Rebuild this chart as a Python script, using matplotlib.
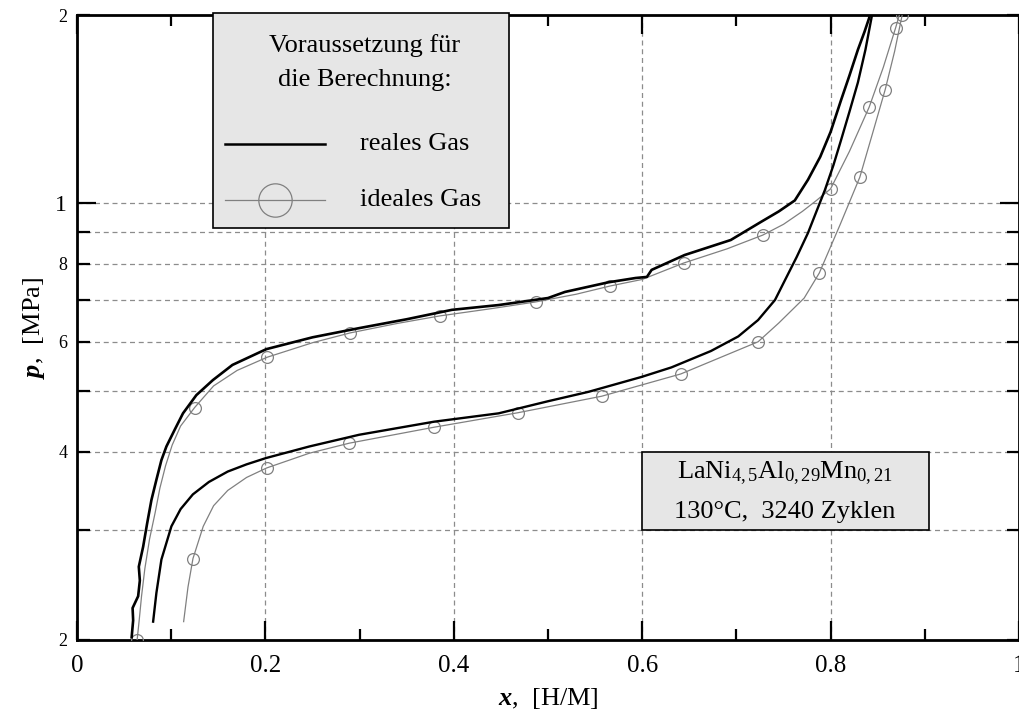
import matplotlib
matplotlib.use('Agg')
import matplotlib.pyplot as plt
from matplotlib.lines import Line2D
from matplotlib.patches import Rectangle
from matplotlib.ticker import FixedLocator, FixedFormatter

plt.rcParams['font.family'] = ['Liberation Serif', 'DejaVu Serif']
plt.rcParams['mathtext.fontset'] = 'custom'
plt.rcParams['mathtext.rm'] = 'Liberation Serif'
plt.rcParams['mathtext.it'] = 'Liberation Serif:italic'
plt.rcParams['mathtext.bf'] = 'Liberation Serif:italic:bold'

# reales Gas, Absorption (Messkurve, gezackt)
x_real_abs = [0.058, 0.0596, 0.059, 0.0649, 0.0667, 0.0656, 0.0702, 0.0744, 0.079,
              0.0843, 0.0896, 0.0949, 0.1037, 0.1125, 0.1267, 0.1442, 0.165, 0.201,
              0.25, 0.2995, 0.35, 0.398, 0.4476, 0.5, 0.518, 0.564, 0.593, 0.605,
              0.61, 0.645, 0.694, 0.726, 0.745, 0.762, 0.776, 0.789, 0.80, 0.811,
              0.82, 0.829, 0.836, 0.842]
p_real_abs = [2.02, 2.15, 2.25, 2.35, 2.49, 2.62, 2.82, 3.07, 3.35,
              3.61, 3.88, 4.08, 4.34, 4.61, 4.93, 5.21, 5.51, 5.84,
              6.1, 6.31, 6.52, 6.75, 6.87, 7.05, 7.21, 7.47, 7.59, 7.62,
              7.82, 8.26, 8.73, 9.33, 9.7, 10.1, 10.9, 11.86, 13.0, 14.6,
              16.0, 17.6, 18.8, 20.0]

# ideales Gas, Absorption
x_ideal_abs = [0.0638, 0.066, 0.0685, 0.072, 0.077, 0.083, 0.088, 0.094, 0.101,
               0.110, 0.1249, 0.145, 0.17, 0.2021, 0.25, 0.290, 0.34, 0.385,
               0.44, 0.487, 0.53, 0.566, 0.6, 0.644, 0.69, 0.728, 0.75, 0.77,
               0.785, 0.80, 0.82, 0.841, 0.856, 0.869, 0.873]
p_ideal_abs = [2.0, 2.15, 2.35, 2.6, 2.9, 3.2, 3.5, 3.8, 4.1,
               4.4, 4.71, 5.1, 5.4, 5.67, 5.98, 6.20, 6.42, 6.60,
               6.78, 6.95, 7.15, 7.37, 7.55, 8.02, 8.45, 8.89, 9.25, 9.7,
               10.1, 10.54, 12.1, 14.25, 16.5, 19.07, 20.0]
marks_ideal_abs = [0, 10, 13, 15, 17, 19, 21, 23, 25, 29, 31, 33]

# reales Gas, Desorption
x_real_des = [0.0808, 0.0843, 0.0896, 0.1002, 0.11, 0.123, 0.14, 0.16, 0.18,
              0.2007, 0.2466, 0.2995, 0.379, 0.4476, 0.5, 0.543, 0.599, 0.631,
              0.673, 0.702, 0.723, 0.741, 0.751, 0.764, 0.776, 0.785, 0.794,
              0.803, 0.811, 0.82, 0.829, 0.837, 0.844]
p_real_des = [2.14, 2.38, 2.69, 3.04, 3.24, 3.42, 3.58, 3.72, 3.82,
              3.91, 4.08, 4.26, 4.47, 4.61, 4.82, 4.99, 5.27, 5.46,
              5.8, 6.12, 6.5, 7.0, 7.5, 8.2, 8.96, 9.7, 10.5,
              11.5, 12.6, 14.0, 15.6, 17.6, 20.0]

# ideales Gas, Desorption
x_ideal_des = [0.1132, 0.1178, 0.1231, 0.134, 0.145, 0.16, 0.18, 0.2014, 0.2466,
               0.289, 0.379, 0.468, 0.557, 0.641, 0.723, 0.745, 0.772, 0.788,
               0.81, 0.831, 0.845, 0.858, 0.868, 0.876]
p_ideal_des = [2.14, 2.43, 2.70, 3.04, 3.28, 3.47, 3.64, 3.77, 3.98,
               4.13, 4.38, 4.62, 4.91, 5.33, 6.0, 6.43, 7.05, 7.73,
               9.23, 11.0, 13.0, 15.2, 17.5, 20.0]
marks_ideal_des = [2, 7, 9, 10, 11, 12, 13, 14, 17, 19, 21, 23]

x_ticks = [0, 0.2, 0.4, 0.6, 0.8, 1]
x_ticklabels = ['0', '0.2', '0.4', '0.6', '0.8', '1']
y_small_ticks = [2, 3, 4, 5, 6, 7, 8, 9, 20]
y_small_labels = ['2', '', '4', '', '6', '', '8', '', '2']

gray = '#808080'

fig = plt.figure(figsize=(10.2, 7.15), dpi=100)
ax = fig.add_axes([0.0755, 0.1049, 0.9235, 0.8741])

ax.plot(x_ideal_abs, p_ideal_abs, color=gray, lw=0.9, marker='o', markevery=marks_ideal_abs,
        ms=8.5, mfc='none', mec=gray, mew=0.9, zorder=3)
ax.plot(x_ideal_des, p_ideal_des, color=gray, lw=0.9, marker='o', markevery=marks_ideal_des,
        ms=8.5, mfc='none', mec=gray, mew=0.9, zorder=3)
ax.plot(x_real_abs, p_real_abs, color='black', lw=1.9, zorder=4)
ax.plot(x_real_des, p_real_des, color='black', lw=1.7, zorder=4)

ax.set_yscale('log')
ax.set_xlim(0, 1)
ax.set_ylim(2, 20)

ax.xaxis.set_major_locator(FixedLocator(x_ticks))
ax.xaxis.set_major_formatter(FixedFormatter(x_ticklabels))
ax.xaxis.set_minor_locator(FixedLocator([0.1, 0.3, 0.5, 0.7, 0.9]))
ax.yaxis.set_major_locator(FixedLocator([10]))
ax.yaxis.set_major_formatter(FixedFormatter(['1']))
ax.yaxis.set_minor_locator(FixedLocator(y_small_ticks))
ax.yaxis.set_minor_formatter(FixedFormatter(y_small_labels))

ax.tick_params(which='both', direction='in', top=True, right=True, width=1.6)
ax.tick_params(axis='x', which='major', length=14, labelsize=18, pad=11)
ax.tick_params(axis='x', which='minor', length=8)
ax.tick_params(axis='y', which='major', length=14, labelsize=17, pad=7)
ax.tick_params(axis='y', which='minor', length=9, labelsize=13, pad=7)

for s in ax.spines.values():
    s.set_linewidth(2)

ax.grid(True, axis='y', which='both', color='#8c8c8c', lw=0.9, ls=(0, (4, 3)))
ax.grid(True, axis='x', which='major', color='#8c8c8c', lw=0.9, ls=(0, (4, 3)))
ax.set_axisbelow(True)

ax.set_xlabel(r'$\mathbf{x}$,  [H/M]', fontsize=19, labelpad=6)
ax.set_ylabel(r'$\mathbf{p}$,  [MPa]', fontsize=19, labelpad=6)

# Legendenkasten
ax.add_patch(Rectangle((0.1444, 0.659), 0.3142, 0.344, transform=ax.transAxes,
                       facecolor='#e6e6e6', edgecolor='black', lw=1.2, zorder=6, clip_on=False))
ax.text(0.3057, 0.952, 'Voraussetzung für', transform=ax.transAxes, ha='center', va='center',
        fontsize=19, zorder=7)
ax.text(0.3057, 0.896, 'die Berechnung:', transform=ax.transAxes, ha='center', va='center',
        fontsize=19, zorder=7)
ax.add_line(Line2D([0.157, 0.263], [0.7936, 0.7936], transform=ax.transAxes,
                   color='black', lw=1.8, zorder=7))
ax.add_line(Line2D([0.157, 0.263], [0.704, 0.704], transform=ax.transAxes,
                   color=gray, lw=0.9, zorder=7))
ax.add_line(Line2D([0.210], [0.704], transform=ax.transAxes, marker='o', ms=24,
                   mfc='none', mec=gray, mew=0.9, zorder=7))
ax.text(0.3004, 0.7936, 'reales Gas', transform=ax.transAxes, ha='left', va='center',
        fontsize=19, zorder=7)
ax.text(0.3004, 0.704, 'ideales Gas', transform=ax.transAxes, ha='left', va='center',
        fontsize=19, zorder=7)

# Probenangabe
ax.add_patch(Rectangle((0.6, 3.0), 0.305, 1.0, facecolor='#e6e6e6', edgecolor='black',
                       lw=1.2, zorder=6))
ax.text(0.7513, 3.70, r'LaNi$_{4,5}$Al$_{0,29}$Mn$_{0,21}$', ha='center', va='center',
        fontsize=19, zorder=7)
ax.text(0.7513, 3.20, '130°C,  3240 Zyklen', ha='center', va='center', fontsize=19, zorder=7)

fig.savefig('out.png', dpi=100)
